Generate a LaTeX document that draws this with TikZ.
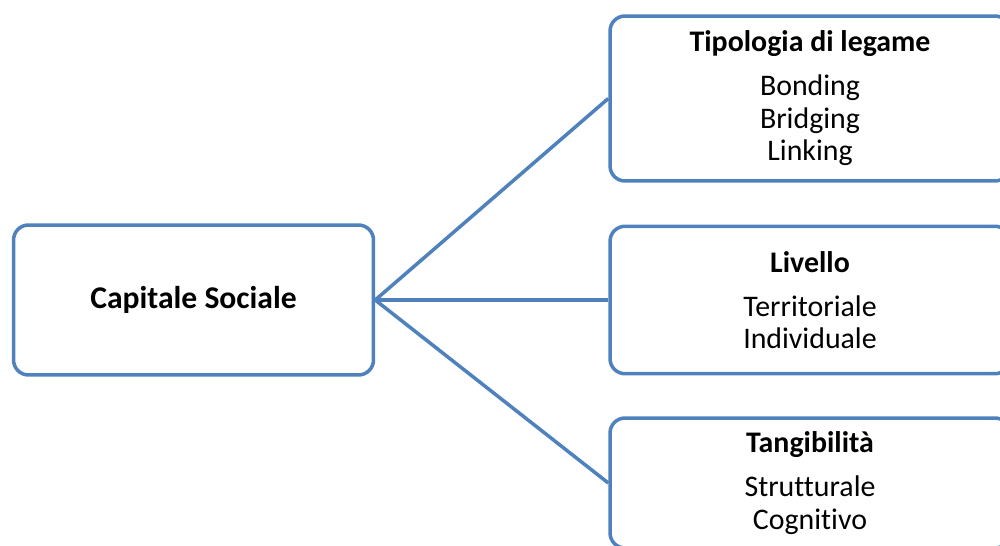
\documentclass[tikz,border=0pt]{standalone}
\usepackage{fontspec}
\setmainfont[Ligatures=NoCommon]{Carlito}
\definecolor{officeblue}{RGB}{79,129,189}
\tikzset{
	box/.style={draw=officeblue, line width=2pt, rounded corners=0.3cm, fill=white, align=center, font=\fontsize{17}{18.5}\selectfont},
	link/.style={draw=officeblue, line width=2pt}
}

\begin{document}
\begin{tikzpicture}[x=0.02cm,y=-0.02cm]
	%page
		\clip (0,0) rectangle (1000,546);
	%left box
		\node[box, minimum width=7.2cm, minimum height=3cm, font=\fontsize{18}{20}\selectfont] (cap) at (193.5,300) {\textbf{Capitale Sociale}};
	%right boxes
		\node[box, minimum width=8cm, minimum height=3.3cm] (tip) at (810,98.5) {\textbf{Tipologia di legame}\\[0.23cm]Bonding\\Bridging\\Linking};
		\node[box, minimum width=8cm, minimum height=2.95cm] (liv) at (810,300) {\textbf{Livello}\\[0.23cm]Territoriale\\Individuale};
		\node[box, minimum width=8cm, minimum height=2.6cm] (tan) at (810,483) {\textbf{Tangibilità}\\[0.23cm]Strutturale\\Cognitivo};
	%connectors
		\draw[link] (cap.east) -- (tip.west);
		\draw[link] (cap.east) -- (liv.west);
		\draw[link] (cap.east) -- (tan.west);
\end{tikzpicture}
\end{document}
